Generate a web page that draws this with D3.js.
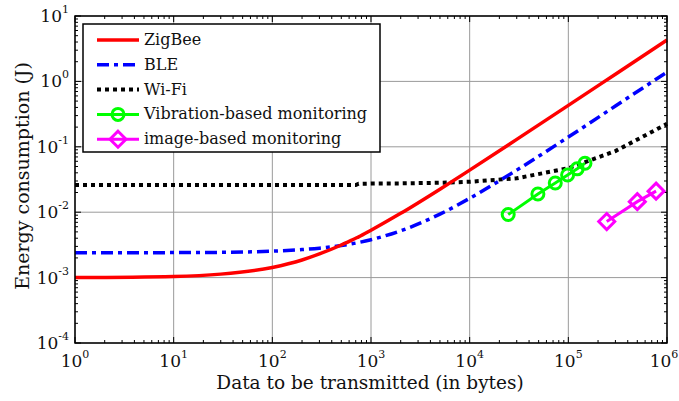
<!DOCTYPE html>
<html>
<head>
<meta charset="utf-8">
<script src="https://cdn.jsdelivr.net/npm/d3@7"></script>
<style>
  body { margin: 0; background: #fff; }
  text { font-family: "DejaVu Serif", serif; fill: #111; }
</style>
</head>
<body>
<script>
// data (bytes -> joules)
var xs = [1, 10, 30, 100, 200, 300, 500, 700, 750, 1000, 2000, 5000, 1e4, 3e4, 1e5, 3e5, 1e6];
var zigbee = [1.0e-3, 1.04e-3, 1.13e-3, 1.43e-3, 1.86e-3, 2.3e-3, 3.15e-3, 4.0e-3, 4.2e-3, 5.3e-3, 9.6e-3, 2.25e-2, 4.4e-2, 0.13, 0.43, 1.29, 4.3];
var ble = [2.4e-3, 2.41e-3, 2.43e-3, 2.54e-3, 2.68e-3, 2.82e-3, 3.1e-3, 3.37e-3, 3.44e-3, 3.8e-3, 5.2e-3, 9.35e-3, 1.63e-2, 4.4e-2, 0.141, 0.42, 1.39];
var wifi = [0.026, 0.026, 0.026, 0.026, 0.026, 0.026, 0.026, 0.026, 0.0272, 0.0274, 0.0276, 0.0282, 0.0292, 0.033, 0.047, 0.086, 0.224];
var vibX = [24576, 49152, 73728, 98304, 122880, 147456];
var vibY = [0.0092, 0.019, 0.028, 0.037, 0.046, 0.056];
var imgX = [245000, 500000, 775000];
var imgY = [0.0072, 0.0145, 0.021];
var xDecades = [0, 1, 2, 3, 4, 5, 6];
var yDecades = [-4, -3, -2, -1, 0, 1];
var legendNames = ["ZigBee", "BLE", "Wi-Fi", "Vibration-based monitoring", "image-based monitoring"];

var W = 679, H = 401;
var m = {l: 75, r: 12, t: 16, b: 58};
var svg = d3.select("body").append("svg").attr("width", W).attr("height", H);

var x = d3.scaleLog().domain([1, 1e6]).range([m.l, W - m.r]);
var y = d3.scaleLog().domain([1e-4, 10]).range([H - m.b, m.t]);
var x0 = m.l, x1 = W - m.r, y0 = H - m.b, y1 = m.t;

// grid
var grid = svg.append("g").attr("stroke", "#9a9a9a").attr("stroke-width", 1);
xDecades.forEach(function(d) {
  grid.append("line").attr("x1", x(Math.pow(10, d))).attr("x2", x(Math.pow(10, d)))
    .attr("y1", y0).attr("y2", y1);
});
yDecades.forEach(function(d) {
  grid.append("line").attr("y1", y(Math.pow(10, d))).attr("y2", y(Math.pow(10, d)))
    .attr("x1", x0).attr("x2", x1);
});

// ticks inward on all sides
var tk = svg.append("g").attr("stroke", "#000").attr("stroke-width", 1);
xDecades.forEach(function(d) {
  for (var k = 1; k <= 9; k++) {
    if (d == 6 && k > 1) break;
    var xv = x(k * Math.pow(10, d)), len = k == 1 ? 6 : 3;
    tk.append("line").attr("x1", xv).attr("x2", xv).attr("y1", y0).attr("y2", y0 - len);
    tk.append("line").attr("x1", xv).attr("x2", xv).attr("y1", y1).attr("y2", y1 + len);
  }
});
yDecades.forEach(function(d) {
  for (var k = 1; k <= 9; k++) {
    if (d == 1 && k > 1) break;
    var yv = y(k * Math.pow(10, d)), len = k == 1 ? 6 : 3;
    tk.append("line").attr("y1", yv).attr("y2", yv).attr("x1", x0).attr("x2", x0 + len);
    tk.append("line").attr("y1", yv).attr("y2", yv).attr("x1", x1).attr("x2", x1 - len);
  }
});

// tick labels
xDecades.forEach(function(d) {
  var t = svg.append("text").attr("x", x(Math.pow(10, d)) + (d == 6 ? -3 : 0)).attr("y", y0 + 24)
    .attr("text-anchor", "middle").attr("font-size", 17);
  t.append("tspan").text("10");
  t.append("tspan").attr("dy", -9).attr("font-size", 11).text(d);
});
yDecades.forEach(function(d) {
  var t = svg.append("text").attr("x", x0 - 6).attr("y", y(Math.pow(10, d)) + 6)
    .attr("text-anchor", "end").attr("font-size", 17);
  t.append("tspan").text("10");
  t.append("tspan").attr("dy", -9).attr("font-size", 11).text(d);
});

svg.append("text").attr("x", 370).attr("y", H - 12)
  .attr("text-anchor", "middle").attr("font-size", 18.5).text("Data to be transmitted (in bytes)");
svg.append("text").attr("transform", "translate(29,176) rotate(-90)")
  .attr("text-anchor", "middle").attr("font-size", 19).text("Energy consumption (J)");

// curves
var line = d3.line().x(function(d) { return x(d[0]); }).y(function(d) { return y(d[1]); });
var smooth = d3.line().curve(d3.curveMonotoneX)
  .x(function(d) { return x(d[0]); }).y(function(d) { return y(d[1]); });
var plot = svg.append("g");
plot.append("path").datum(d3.zip(xs, wifi)).attr("d", line).attr("fill", "none")
  .attr("stroke", "#000").attr("stroke-width", 4).attr("stroke-dasharray", "4,4");
plot.append("path").datum(d3.zip(xs, ble)).attr("d", smooth).attr("fill", "none")
  .attr("stroke", "#0000ff").attr("stroke-width", 3.5).attr("stroke-dasharray", "12,5,4,5");
plot.append("path").datum(d3.zip(xs, zigbee)).attr("d", smooth).attr("fill", "none")
  .attr("stroke", "#ff0000").attr("stroke-width", 3.5);

var vib = d3.zip(vibX, vibY);
plot.append("path").datum(vib).attr("d", line).attr("fill", "none")
  .attr("stroke", "#00ff00").attr("stroke-width", 3);
plot.selectAll("circle.v").data(vib).join("circle").attr("class", "v")
  .attr("cx", function(d) { return x(d[0]); }).attr("cy", function(d) { return y(d[1]); })
  .attr("r", 6).attr("fill", "none").attr("stroke", "#00ff00").attr("stroke-width", 3);

var img = d3.zip(imgX, imgY);
var diamond = "M0,-8L8,0L0,8L-8,0Z";
plot.append("path").datum(img).attr("d", line).attr("fill", "none")
  .attr("stroke", "#ff00ff").attr("stroke-width", 3);
plot.selectAll("path.i").data(img).join("path").attr("class", "i")
  .attr("transform", function(d) { return "translate(" + x(d[0]) + "," + y(d[1]) + ")"; })
  .attr("d", diamond).attr("fill", "none").attr("stroke", "#ff00ff").attr("stroke-width", 3);

// frame
svg.append("rect").attr("x", x0).attr("y", y1).attr("width", x1 - x0).attr("height", y0 - y1)
  .attr("fill", "none").attr("stroke", "#000").attr("stroke-width", 1.5);

// legend
var lg = svg.append("g");
lg.append("rect").attr("x", 83).attr("y", 24).attr("width", 297).attr("height", 128)
  .attr("fill", "#fff").attr("stroke", "#000").attr("stroke-width", 1.5);
var styles = [
  {c: "#ff0000", dash: null, w: 3.5},
  {c: "#0000ff", dash: "12,5,4,5", w: 3.5},
  {c: "#000", dash: "4,4", w: 4},
  {c: "#00ff00", dash: null, w: 3},
  {c: "#ff00ff", dash: null, w: 3}
];
legendNames.forEach(function(n, i) {
  var ly = 40 + i * 24.8;
  lg.append("line").attr("x1", 97).attr("x2", 139).attr("y1", ly).attr("y2", ly)
    .attr("stroke", styles[i].c).attr("stroke-width", styles[i].w)
    .attr("stroke-dasharray", styles[i].dash);
  if (i == 3) lg.append("circle").attr("cx", 118).attr("cy", ly).attr("r", 6)
    .attr("fill", "none").attr("stroke", "#00ff00").attr("stroke-width", 3);
  if (i == 4) lg.append("path").attr("transform", "translate(118," + ly + ")").attr("d", diamond)
    .attr("fill", "none").attr("stroke", "#ff00ff").attr("stroke-width", 3);
  lg.append("text").attr("x", 144).attr("y", ly + 5).attr("font-size", 16).text(n);
});
</script>
</body>
</html>
